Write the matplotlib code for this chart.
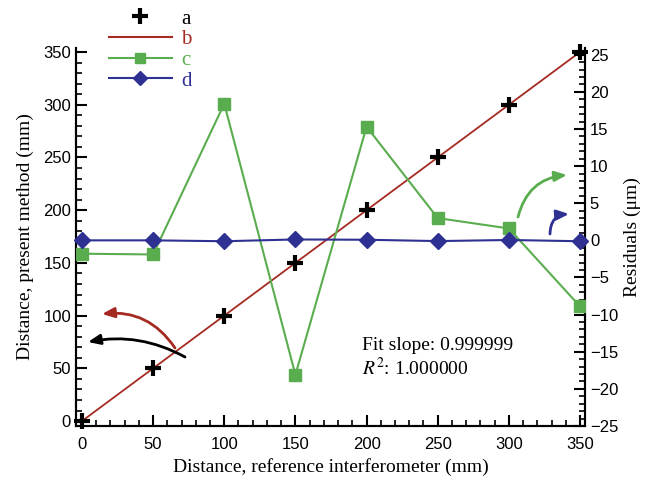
import matplotlib.pyplot as plt
from matplotlib.ticker import MultipleLocator
from matplotlib.lines import Line2D

# reference distances (mm)
distance_ref = [0, 50, 100, 150, 200, 250, 300, 350]
# measured distance, present method (mm)
distance_meas = [0, 50, 100, 150, 200, 250, 300, 350]
# linear fit line endpoints
fit_x = [0, 350]
fit_y = [0, 350]
# residuals (um)
resid_c = [-1.8, -1.9, 18.4, -18.1, 15.3, 3.0, 1.6, -8.9]
resid_d = [0.0, 0.0, -0.12, 0.12, 0.08, -0.1, 0.05, -0.12]

col_a = 'black'
col_b = '#a52a22'
col_c = '#5aad4e'
col_d = '#2e3192'

serif = ['Liberation Serif', 'DejaVu Serif']
sans = ['Liberation Sans', 'DejaVu Sans']
plt.rcParams['font.family'] = sans
plt.rcParams['mathtext.fontset'] = 'stix'

fig = plt.figure(figsize=(6.46, 4.79), dpi=100)
ax = fig.add_axes([0.1176, 0.1106, 0.788, 0.7892])
ax2 = ax.twinx()

ax.plot(fit_x, fit_y, color=col_b, lw=1.3, zorder=2)
ax.plot(distance_ref, distance_meas, ls='none', marker='+', ms=12, mew=3,
        color=col_a, zorder=5, clip_on=False)
ax2.plot(distance_ref, resid_c, color=col_c, lw=1.5, marker='s', ms=8,
         mfc=col_c, mec=col_c, zorder=3)
ax2.plot(distance_ref, resid_d, color=col_d, lw=1.5, marker='D', ms=8,
         mfc=col_d, mec=col_d, zorder=3, clip_on=False)

ax.set_xlim(-4.2, 353.5)
ax.set_ylim(-4.7, 353.8)
ax2.set_ylim(-25, 25.9)

ax.xaxis.set_major_locator(MultipleLocator(50))
ax.xaxis.set_minor_locator(MultipleLocator(10))
ax.yaxis.set_major_locator(MultipleLocator(50))
ax.yaxis.set_minor_locator(MultipleLocator(10))
ax2.yaxis.set_major_locator(MultipleLocator(5))
ax2.yaxis.set_minor_locator(MultipleLocator(1))

for a in (ax, ax2):
    a.spines['top'].set_visible(False)
    for s in a.spines.values():
        s.set_linewidth(1.5)
    a.tick_params(which='major', direction='in', length=8, width=1.5,
                  labelsize=12)
    a.tick_params(which='minor', direction='in', length=4, width=1.2)
ax.tick_params(top=False, which='both')
ax.tick_params(axis='x', pad=8)

ax.set_xlabel('Distance, reference interferometer (mm)', family=serif,
              fontsize=14, labelpad=4)
ax.set_ylabel('Distance, present method (mm)', family=serif, fontsize=14,
              labelpad=7)
ax2.set_ylabel('Residuals (\u03bcm)', family=serif, fontsize=14, labelpad=4)

fig.text(0.56, 0.279, 'Fit slope: 0.999999', family=serif, fontsize=14,
         ha='left', va='center')
fig.text(0.56, 0.232, '$R^2$: 1.000000', family=serif, fontsize=14,
         ha='left', va='center')

# curved arrows pointing to axes (figure pixels: start, end)
arrows = [((185, 357), (88, 342), col_a, 0.18),
          ((175, 348), (102, 314), col_b, 0.3),
          ((518, 217), (567, 175), col_c, -0.35),
          ((550, 234), (569, 214), col_d, -0.45)]
for (x0, y0), (x1, y1), c, rad in arrows:
    ax.annotate('', xy=(x1 / 646, 1 - y1 / 479), xycoords='figure fraction',
                xytext=(x0 / 646, 1 - y0 / 479), textcoords='figure fraction',
                arrowprops=dict(arrowstyle='-|>,head_length=0.6,head_width=0.25',
                                color=c, lw=2,
                                connectionstyle='arc3,rad=%s' % rad,
                                mutation_scale=12, shrinkA=0, shrinkB=0))

handles = [Line2D([], [], ls='none', marker='+', ms=12, mew=3, color=col_a),
           Line2D([], [], color=col_b, lw=1.5),
           Line2D([], [], color=col_c, lw=1.5, marker='s', ms=7),
           Line2D([], [], color=col_d, lw=1.5, marker='D', ms=7)]
leg = fig.legend(handles, ['a', 'b', 'c', 'd'], loc='upper left',
                 bbox_to_anchor=(0.14, 1.02), frameon=False,
                 prop={'family': serif, 'size': 15}, handlelength=3.0,
                 labelspacing=0.05, handletextpad=0.45)
for t, c in zip(leg.get_texts(), [col_a, col_b, col_c, col_d]):
    t.set_color(c)

fig.savefig('out.png', dpi=100)
